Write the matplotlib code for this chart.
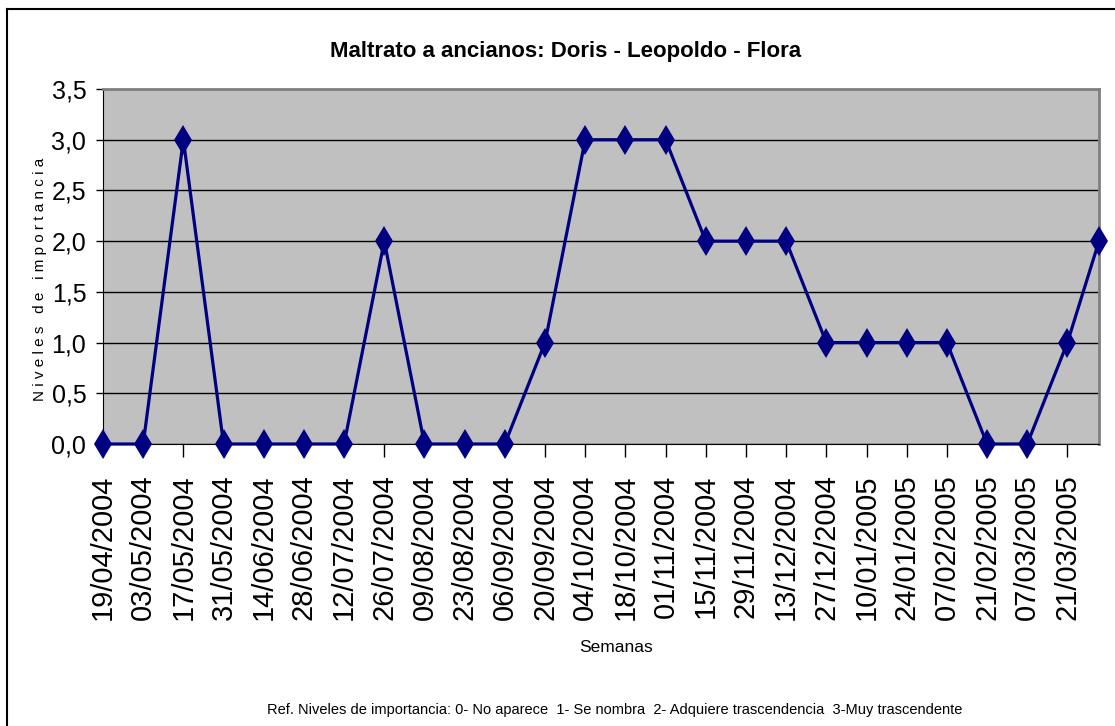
import matplotlib
matplotlib.use("Agg")
import matplotlib.pyplot as plt
from matplotlib import font_manager
from matplotlib.lines import Line2D
from matplotlib.ticker import FuncFormatter, MultipleLocator
import pandas as pd

# Datos
fechas = ["19/04/2004", "03/05/2004", "17/05/2004", "31/05/2004", "14/06/2004",
          "28/06/2004", "12/07/2004", "26/07/2004", "09/08/2004", "23/08/2004",
          "06/09/2004", "20/09/2004", "04/10/2004", "18/10/2004", "01/11/2004",
          "15/11/2004", "29/11/2004", "13/12/2004", "27/12/2004", "10/01/2005",
          "24/01/2005", "07/02/2005", "21/02/2005", "07/03/2005", "21/03/2005",
          "01/04/2005"]
niveles = [0, 0, 3, 0, 0, 0, 0, 2, 0, 0, 0, 1, 3, 3, 3, 2, 2, 2, 1, 1, 1, 1, 0, 0, 1, 2]
etiquetas = fechas[:25]

titulo = "Maltrato a ancianos: Doris - Leopoldo - Flora"
nota = ("Ref. Niveles de importancia: 0- No aparece  1- Se nombra  "
        "2- Adquiere trascendencia  3-Muy trascendente")

# Fuentes
nombres = {f.name for f in font_manager.fontManager.ttflist}
normal = "Liberation Sans" if "Liberation Sans" in nombres else "DejaVu Sans"
estrecha = "Liberation Sans Narrow" if "Liberation Sans Narrow" in nombres else normal

x = pd.to_datetime(fechas, format="%d/%m/%Y")
x_ticks = pd.to_datetime(etiquetas, format="%d/%m/%Y")

fig = plt.figure(figsize=(11.15, 7.26), dpi=100)
ax = fig.add_axes([103 / 1115, 1 - 444 / 726, (1099 - 103) / 1115, (444 - 89) / 726])
ax.set_facecolor("#c0c0c0")

ax.plot(x, niveles, color="#000080", linewidth=2.3, marker="d",
        markersize=15, markeredgewidth=0, clip_on=False, zorder=3)

ax.set_xlim(x[0], x[-1])
ax.set_ylim(0, 3.5)
ax.yaxis.set_major_locator(MultipleLocator(0.5))
ax.yaxis.set_major_formatter(FuncFormatter(lambda v, p: f"{v:.1f}".replace(".", ",")))
ax.grid(axis="y", color="black", linewidth=1)
ax.set_axisbelow(True)

ax.set_xticks(x_ticks)
ax.set_xticklabels(etiquetas, rotation=90, fontsize=21, family=normal)
ax.tick_params(axis="x", length=9, width=1, pad=13, color="black")
ax.tick_params(axis="y", length=5, width=1, pad=7, labelsize=18, color="black")
for t in ax.get_yticklabels():
    t.set_family(estrecha)

for lado in ["top", "right"]:
    ax.spines[lado].set_color("#808080")
    ax.spines[lado].set_linewidth(2)
for lado in ["left", "bottom"]:
    ax.spines[lado].set_color("black")

fig.text(566 / 1115, 1 - 52 / 726, titulo, ha="center", va="center",
         fontsize=16, fontweight="bold", family=estrecha)
fig.text(616 / 1115, 1 - 648 / 726, "Semanas", ha="center", va="center",
         fontsize=12.5, family=estrecha)
fig.text(40 / 1115, 1 - 279 / 726, "N i v e l e s   d e   i m p o r t a n c i a",
         ha="center", va="center", rotation=90, fontsize=11, family=normal)
fig.text(615 / 1115, 1 - 710 / 726, nota, ha="center", va="center",
         fontsize=10.5, family=estrecha)

# Borde exterior
fig.add_artist(Line2D([7 / 1115, 1], [1 - 9 / 726, 1 - 9 / 726], color="black", linewidth=1.5))
fig.add_artist(Line2D([7 / 1115, 7 / 1115], [0, 1 - 9 / 726], color="black", linewidth=1.5))

fig.savefig("out.png", dpi=100)
